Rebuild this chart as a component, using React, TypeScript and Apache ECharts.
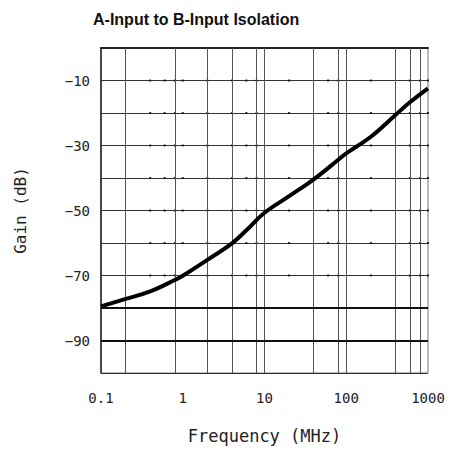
import React, { useEffect, useRef } from "react";
import * as echarts from "echarts";

const title = "A-Input to B-Input Isolation";
const xName = "Frequency (MHz)";
const yName = "Gain (dB)";

// curve
const freq = [0.1, 0.2, 0.4, 0.8, 1, 2, 4, 6, 10, 20, 40, 80, 100, 200, 400, 600, 1000];
const gain = [-79.5, -77.2, -74.9, -71.4, -70.1, -65.2, -60.1, -56.1, -50.7, -45.6, -40.4, -34.4, -32.4, -27.3, -20.6, -16.7, -12.4];

// axes
const xTickLabels = [0.1, 1, 10, 100, 1000];
const yTickLabels = [-10, -30, -50, -70, -90];
const verticalGrid = [0.2, 0.8, 2, 4, 8, 10, 40, 80, 100, 400, 600, 800];
const heavyRows = [-80, -90];
const dotFreqs = [0.4, 0.6, 0.8, 1, 2, 4, 6, 8, 20, 60, 80, 200, 600, 800, 1000];
const dotRows = [-10, -20, -30, -40, -50, -60, -70];

const labelFont = "'DejaVu Sans Mono', 'Liberation Mono', monospace";

export default function App() {
  const ref = useRef<HTMLDivElement>(null);
  useEffect(() => {
    if (!ref.current) return;
    const chart = echarts.init(ref.current, null, { renderer: "svg" });
    const dots: number[][] = [];
    dotRows.forEach((r) => dotFreqs.forEach((f) => dots.push([f, r])));
    chart.setOption({
      animation: false,
      backgroundColor: "#fff",
      title: {
        text: title,
        left: 88,
        top: 6,
        textStyle: {
          fontFamily: "'Liberation Sans Narrow', 'Liberation Sans', Arial, sans-serif",
          fontWeight: "bold",
          fontSize: 16,
          color: "#111",
        },
      },
      grid: {
        left: 101,
        right: 23,
        top: 48,
        bottom: 80,
        show: true,
        borderColor: "#777",
        borderWidth: 1,
      },
      xAxis: {
        type: "log",
        logBase: 10,
        min: 0.1,
        max: 1000,
        name: xName,
        nameLocation: "middle",
        nameGap: 54,
        nameTextStyle: { fontFamily: labelFont, fontSize: 17, color: "#222" },
        axisLine: { show: true, lineStyle: { color: "#222", width: 2 } },
        axisTick: { show: false },
        splitLine: { show: false },
        minorSplitLine: { show: false },
        axisLabel: {
          margin: 18,
          fontFamily: labelFont,
          fontSize: 14,
          color: "#222",
          formatter: (v: number) => {
            const n = Number(Number(v).toPrecision(3));
            return xTickLabels.includes(n) ? String(n) : "";
          },
        },
      },
      yAxis: {
        type: "value",
        min: -100,
        max: 0,
        interval: 10,
        name: yName,
        nameLocation: "middle",
        nameGap: 73,
        nameTextStyle: { fontFamily: labelFont, fontSize: 16, color: "#222" },
        axisLine: { show: true, lineStyle: { color: "#222", width: 1.5 } },
        axisTick: { show: false },
        splitLine: { show: true, lineStyle: { color: "#333", width: 1 } },
        axisLabel: {
          margin: 11,
          fontFamily: labelFont,
          fontSize: 14,
          color: "#222",
          formatter: (v: number) => (yTickLabels.includes(v) ? "\u2212" + Math.abs(v) : ""),
        },
      },
      series: [
        {
          type: "line",
          data: [],
          silent: true,
          markLine: {
            silent: true,
            symbol: "none",
            label: { show: false },
            lineStyle: { color: "#555", width: 1, type: "solid" },
            data: [
              ...verticalGrid.map((f) => ({ xAxis: f })),
              ...heavyRows.map((r) => ({ yAxis: r, lineStyle: { color: "#111", width: 2, type: "solid" } })),
            ],
          },
        },
        {
          type: "scatter",
          data: dots,
          symbol: "rect",
          symbolSize: 2,
          itemStyle: { color: "#000" },
          silent: true,
        },
        {
          type: "line",
          data: freq.map((f, i) => [f, gain[i]]),
          smooth: 0.4,
          showSymbol: false,
          lineStyle: { color: "#000", width: 4 },
          z: 5,
        },
      ],
    });
    return () => chart.dispose();
  }, []);
  return (
    <div
      ref={ref}
      style={{ position: "absolute", left: 0, top: 0, width: 451, height: 453 }}
    />
  );
}
